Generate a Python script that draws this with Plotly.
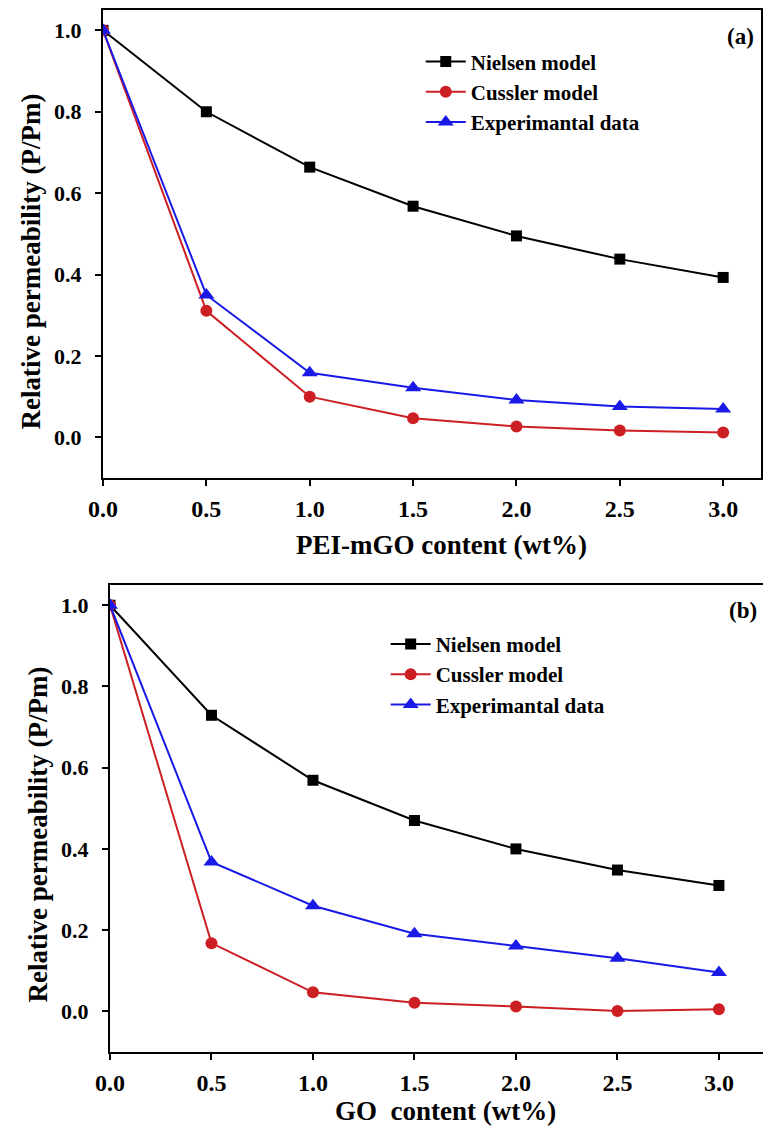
import plotly.graph_objects as go

# ---- data ----
content = [0.0, 0.5, 1.0, 1.5, 2.0, 2.5, 3.0]

a_nielsen = [1.0, 0.80, 0.664, 0.568, 0.495, 0.438, 0.393]
a_cussler = [1.0, 0.311, 0.100, 0.047, 0.027, 0.017, 0.012]
a_exp = [1.0, 0.350, 0.159, 0.122, 0.092, 0.076, 0.070]

b_nielsen = [1.0, 0.729, 0.569, 0.470, 0.400, 0.348, 0.310]
b_cussler = [1.0, 0.168, 0.047, 0.021, 0.012, 0.001, 0.005]
b_exp = [1.0, 0.368, 0.260, 0.191, 0.161, 0.131, 0.096]

names = ["Nielsen model", "Cussler model", "Experimantal data"]
xtick_vals = [0.0, 0.5, 1.0, 1.5, 2.0, 2.5, 3.0]
ytick_vals = [0.0, 0.2, 0.4, 0.6, 0.8, 1.0]

FONT = "Liberation Serif"
BLACK = "#000000"
RED = "#cc1f24"
BLUE = "#1a1ae6"
colors = [BLACK, RED, BLUE]
symbols = ["square", "circle", "triangle-up"]
msizes = [11, 12, 14]

fig = go.Figure()

for series, xa, ya, leg in [((a_nielsen, a_cussler, a_exp), "x", "y", "legend"),
                            ((b_nielsen, b_cussler, b_exp), "x2", "y2", "legend2")]:
    for vals, name, c, s, ms in zip(series, names, colors, symbols, msizes):
        fig.add_trace(go.Scatter(
            x=content, y=vals, name=name, mode="lines+markers",
            line=dict(color=c, width=2),
            marker=dict(symbol=s, size=ms, color=c),
            xaxis=xa, yaxis=ya, legend=leg, showlegend=True,
        ))

axis_common = dict(
    showline=True, linecolor="black", linewidth=2, mirror=True,
    ticks="outside", ticklen=6, tickwidth=2, tickcolor="black",
    showgrid=False, zeroline=False,
)

tickfont_x = dict(family=FONT, size=24, color="black", weight="bold")
tickfont_y = dict(family=FONT, size=22, color="black", weight="bold")

# page has an 8px body margin; figure is sized/offset to compensate
W, H = 763, 1123
ML, MR, MT, MB = 95, 6, 0, 79
PW = W - ML - MR      # 662
PH = H - MT - MB      # 1044

def px_to_paper_x(px):
    return (px - 8 - ML) / PW

def px_to_paper_y(py):
    return (PH - (py - 8 - MT)) / PH

fig.update_layout(
    width=W, height=H,
    paper_bgcolor="white", plot_bgcolor="white",
    margin=dict(l=ML, r=MR, t=MT, b=MB, pad=0),
    xaxis=dict(domain=[0.0, px_to_paper_x(761)], range=[0, 3.183], anchor="y",
               tickvals=xtick_vals, tickformat=".1f", tickfont=tickfont_x,
               ticklabelstandoff=2, **axis_common),
    yaxis=dict(domain=[px_to_paper_y(477), 1.0], range=[-0.1, 1.05], anchor="x",
               tickvals=ytick_vals, tickformat=".1f", tickfont=tickfont_y,
               ticklabelstandoff=9, **axis_common),
    xaxis2=dict(domain=[px_to_paper_x(110), 1.0], range=[0, 3.227], anchor="y2",
                tickvals=xtick_vals, tickformat=".1f", tickfont=tickfont_x,
                ticklabelstandoff=2, **axis_common),
    yaxis2=dict(domain=[0.0, px_to_paper_y(584)], range=[-0.1, 1.05], anchor="x2",
                tickvals=ytick_vals, tickformat=".1f", tickfont=tickfont_y,
                ticklabelstandoff=9, **axis_common),
    legend=dict(x=0.48, y=0.97, xanchor="left", yanchor="top",
                bgcolor="rgba(0,0,0,0)", borderwidth=0,
                font=dict(family=FONT, size=21, color="black", weight="bold"),
                itemwidth=40, tracegroupgap=0),
    legend2=dict(x=0.427, y=0.411, xanchor="left", yanchor="top",
                 bgcolor="rgba(0,0,0,0)", borderwidth=0,
                 font=dict(family=FONT, size=21, color="black", weight="bold"),
                 itemwidth=40, tracegroupgap=0),
    showlegend=True,
)

ann_font_title = dict(family=FONT, size=27, color="black", weight="bold")
ann_font_lab = dict(family=FONT, size=23, color="black", weight="bold")

annotations = [
    dict(text="PEI-mGO content (wt%)", x=px_to_paper_x(441), y=px_to_paper_y(544),
         xref="paper", yref="paper", showarrow=False, font=ann_font_title,
         xanchor="center", yanchor="middle"),
    dict(text="GO\u00a0 content (wt%)", x=px_to_paper_x(445), y=px_to_paper_y(1111),
         xref="paper", yref="paper", showarrow=False, font=ann_font_title,
         xanchor="center", yanchor="middle"),
    dict(text="Relative permeability (P/Pm)", x=px_to_paper_x(31), y=px_to_paper_y(260),
         xref="paper", yref="paper", showarrow=False, font=ann_font_title,
         textangle=-90, xanchor="center", yanchor="middle"),
    dict(text="Relative permeability (P/Pm)", x=px_to_paper_x(38), y=px_to_paper_y(834),
         xref="paper", yref="paper", showarrow=False, font=ann_font_title,
         textangle=-90, xanchor="center", yanchor="middle"),
    dict(text="(a)", x=px_to_paper_x(740), y=px_to_paper_y(35),
         xref="paper", yref="paper", showarrow=False, font=ann_font_lab,
         xanchor="center", yanchor="middle"),
    dict(text="(b)", x=px_to_paper_x(743), y=px_to_paper_y(610),
         xref="paper", yref="paper", showarrow=False, font=ann_font_lab,
         xanchor="center", yanchor="middle"),
]
fig.update_layout(annotations=annotations)

fig.write_html("out.html")
